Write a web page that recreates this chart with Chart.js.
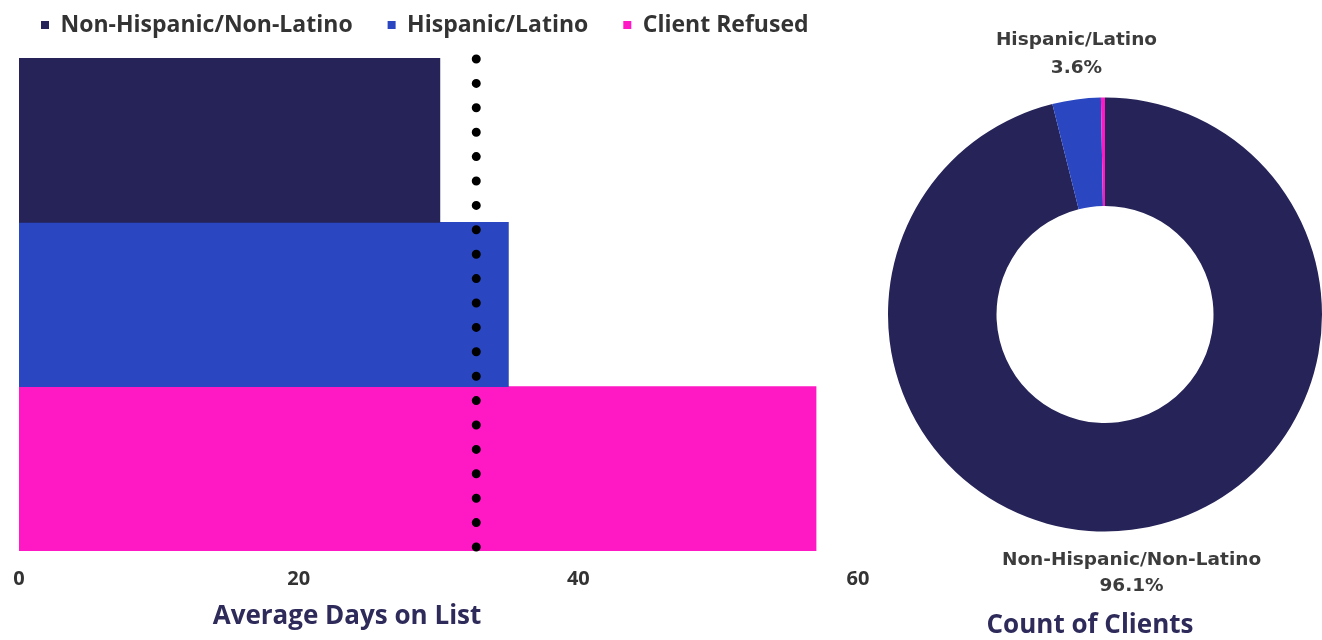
<!DOCTYPE html>
<html>
<head>
<meta charset="utf-8">
<script src="https://cdn.jsdelivr.net/npm/chart.js@4.4.1/dist/chart.umd.min.js"></script>
<style>
  html, body { margin: 0; padding: 0; background: #fff; }
  #page { position: relative; width: 1322px; height: 640px; overflow: hidden; font-family: 'Open Sans', sans-serif; }
  #barWrap { position: absolute; left: 0; top: 0; width: 880px; height: 640px; }
  #pieWrap { position: absolute; left: 880px; top: 0; width: 442px; height: 640px; }
  .axisTitle { position: absolute; font-weight: 700; font-size: 26px; color: #2e2a5a; white-space: nowrap; transform: translateX(-50%); }
</style>
</head>
<body>
<div id="page">
  <div id="barWrap"><canvas id="daysBar"></canvas></div>
  <div id="pieWrap"><canvas id="clientsPie"></canvas></div>
  <div class="axisTitle" style="left:347px; top:596px;">Average Days on List</div>
  <div class="axisTitle" style="left:1090px; top:605px;">Count of Clients</div>
</div>
<script>
// ===== ETHNICITY CHARTS =====
const categories = ['Non-Hispanic/Non-Latino', 'Hispanic/Latino', 'Client Refused'];
const avgDays = [30.1, 35.0, 57.0];
const overallAvgDays = 32.7;
const clientShare = [96.1, 3.6, 0.3];
const labelledSlices = [0, 1];
const dayTicks = [0, 20, 40, 60];
const colors = ['#252358', '#2a46c1', '#ff19c4'];

// dotted reference line for the overall average
const avgLine = {
  id: 'avgLine',
  afterDatasetsDraw(chart) {
    const { ctx, chartArea, scales } = chart;
    const x = scales.x.getPixelForValue(overallAvgDays);
    ctx.save();
    ctx.strokeStyle = '#000';
    ctx.lineWidth = 9;
    ctx.lineCap = 'round';
    ctx.setLineDash([0, 24.4]);
    ctx.beginPath();
    ctx.moveTo(x, chartArea.top + 1);
    ctx.lineTo(x, chartArea.bottom);
    ctx.stroke();
    ctx.restore();
  }
};

// a bit more room between legend and bars
const legendGap = {
  id: 'legendGap',
  beforeInit(chart) {
    const fit = chart.legend.fit;
    chart.legend.fit = function () {
      fit.bind(chart.legend)();
      this.height += 11.5;
    };
  }
};

// 1. Average days bar
new Chart(document.getElementById('daysBar'), {
  type: 'bar',
  data: {
    labels: categories,
    datasets: categories.map((c, i) => ({
      label: c,
      data: avgDays.map((v, j) => (j === i ? v : null)),
      backgroundColor: colors[i],
      barPercentage: 1,
      categoryPercentage: 1
    }))
  },
  options: {
    indexAxis: 'y',
    responsive: true,
    maintainAspectRatio: false,
    animation: false,
    layout: { padding: { left: 6, right: 0, top: -21.5, bottom: 33 } },
    plugins: {
      legend: {
        position: 'top',
        align: 'start',
        labels: {
          boxWidth: 8, boxHeight: 8, padding: 35, color: '#333',
          font: { family: 'Open Sans', size: 23, weight: '700' }
        }
      },
      tooltip: { enabled: false }
    },
    scales: {
      x: {
        min: 0, max: 60,
        afterBuildTicks: axis => { axis.ticks = dayTicks.map(v => ({ value: v })); },
        afterFit: axis => { axis.paddingLeft = 19; axis.paddingRight = 22; },
        grid: { display: false, drawTicks: false },
        border: { display: false },
        ticks: { padding: 16, color: '#333', font: { family: 'Open Sans', size: 20, weight: '700' } }
      },
      y: {
        stacked: true,
        display: false
      }
    }
  },
  plugins: [avgLine, legendGap]
});

// outside labels for the doughnut slices
const sliceLabels = {
  id: 'sliceLabels',
  afterDatasetsDraw(chart) {
    const { ctx } = chart;
    const meta = chart.getDatasetMeta(0);
    ctx.save();
    ctx.fillStyle = '#3c3c3c';
    ctx.textAlign = 'center';
    ctx.textBaseline = 'middle';
    ctx.font = 'bold 18.5px "DejaVu Sans"';
    labelledSlices.forEach(i => {
      const arc = meta.data[i];
      const { x, y, startAngle, endAngle, outerRadius } = arc.getProps(['x', 'y', 'startAngle', 'endAngle', 'outerRadius'], true);
      const mid = (startAngle + endAngle) / 2;
      const lx = x + outerRadius * Math.cos(mid);
      const name = categories[i];
      const pct = clientShare[i].toFixed(1) + '%';
      if (Math.sin(mid) < 0) {
        ctx.fillText(name, lx, y - outerRadius - 57);
        ctx.fillText(pct, lx, y - outerRadius - 29);
      } else {
        ctx.fillText(name, lx, y + outerRadius + 29);
        ctx.fillText(pct, lx, y + outerRadius + 55);
      }
    });
    ctx.restore();
  }
};

// 2. Count of clients doughnut
new Chart(document.getElementById('clientsPie'), {
  type: 'doughnut',
  data: {
    labels: categories,
    datasets: [{
      data: clientShare,
      backgroundColor: colors,
      borderWidth: 0
    }]
  },
  options: {
    responsive: true,
    maintainAspectRatio: false,
    animation: false,
    cutout: '50%',
    layout: { padding: { left: 8, right: 0, top: 97, bottom: 108 } },
    plugins: {
      legend: { display: false },
      tooltip: { enabled: false }
    }
  },
  plugins: [sliceLabels]
});
</script>
</body>
</html>
